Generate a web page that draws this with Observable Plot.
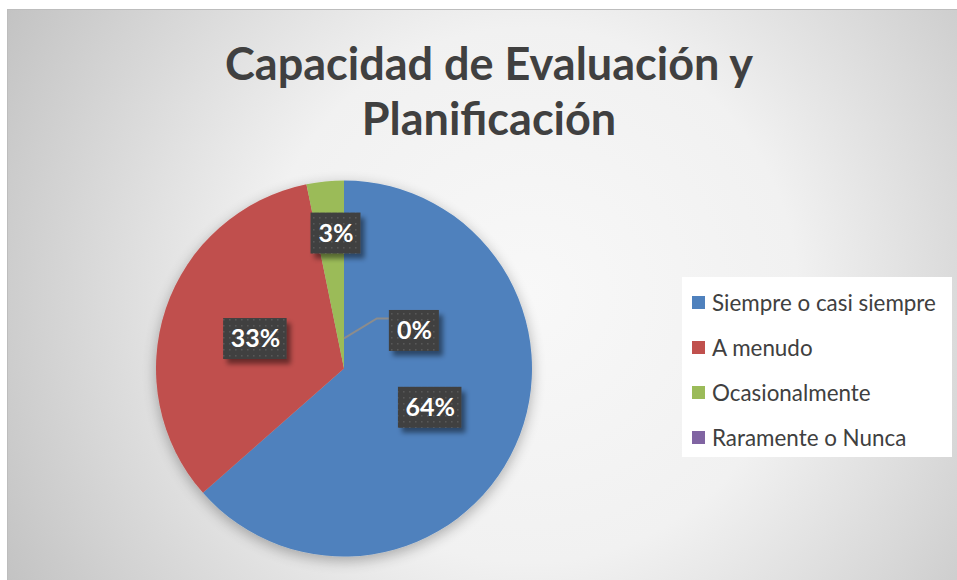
<!DOCTYPE html>
<html>
<head>
<meta charset="utf-8">
<script src="https://cdn.jsdelivr.net/npm/d3@7"></script>
<script src="https://cdn.jsdelivr.net/npm/@observablehq/plot@0.6"></script>
<style>
  html, body { margin: 0; padding: 0; background: #ffffff; }
  #wrap { position: relative; width: 957px; height: 580px; overflow: hidden; font-family: Lato, "Open Sans", sans-serif; }
  #bg { position: absolute; left: 7px; top: 9px; width: 950px; height: 571px; box-sizing: border-box;
        border-top: 1px solid #bdbdbd; border-left: 1px solid #bdbdbd;
        background: radial-gradient(circle farthest-corner at 55% 50%, #f8f8f8 0%, #f1f1f1 45%, #c3c3c3 100%); }
  #title { position: absolute; left: 0; top: 36px; width: 978px; text-align: center; font-weight: 700;
           font-size: 45px; line-height: 55px; color: #404040; }
  #chart { position: absolute; left: 0; top: 0; }
  #legend { position: absolute; left: 682px; top: 277px; width: 270px; height: 180px; background: #ffffff; }
  .row { position: absolute; left: 10px; height: 30px; display: flex; align-items: center; font-size: 22.4px; color: #404040; white-space: nowrap; }
  .sw { width: 13px; height: 13px; margin-right: 7px; flex: none; }
</style>
</head>
<body>
<div id="wrap">
  <div id="bg"></div>
  <div id="title">Capacidad de Evaluación y<br>Planificación</div>
  <div id="chart"></div>
  <div id="legend"></div>
</div>
<script>
// ---- data ----
const categories = ["Siempre o casi siempre", "A menudo", "Ocasionalmente", "Raramente o Nunca"];
const shares = [0.635, 0.333, 0.032, 0];
const labels = ["64%", "33%", "3%", "0%"];
const colors = ["#4F81BD", "#C0504D", "#9BBB59", "#8064A2"];

// ---- layout (label placement relative to the pie, in radius units) ----
const labelPlacement = [
  { r: 0.5 },
  { r: 0.5 },
  { r: 0.72, angleDeg: 356.4 },
  { r: 0.423, angleDeg: 61.5, leader: true }
];

// build slices from the shares
let acc = 0;
const slices = categories.map((key, i) => {
  const start = acc * 2 * Math.PI;
  acc += shares[i];
  const end = acc * 2 * Math.PI;
  return { key, share: shares[i], label: labels[i], start, end, mid: (start + end) / 2 };
});

const labelData = slices.map((s, i) => {
  const p = labelPlacement[i];
  const a = p.angleDeg != null ? p.angleDeg * Math.PI / 180 : s.mid;
  return { key: s.key, text: s.label, x: p.r * Math.sin(a), y: p.r * Math.cos(a), leader: !!p.leader, sliceAngle: s.start };
});

const pieMark = Plot.dot(slices, {
  x: () => 0, y: () => 0, fill: "key",
  render(index, scales, values) {
    const cx = scales.x(0), cy = scales.y(0);
    const r = Math.abs(scales.x(1) - scales.x(0));
    const arc = d3.arc().innerRadius(0).outerRadius(r);
    const g = d3.create("svg:g").attr("transform", `translate(${cx},${cy})`).attr("filter", "url(#pieShadow)");
    for (const i of index) {
      const s = slices[i];
      if (s.end - s.start <= 0) continue;
      g.append("path").attr("d", arc({ startAngle: s.start, endAngle: s.end })).attr("fill", values.fill[i]);
    }
    return g.node();
  }
});

const labelMark = Plot.text(labelData, {
  x: "x", y: "y", text: "text", fill: "white", fontSize: 25, fontWeight: "bold",
  fontFamily: "Lato, 'Open Sans', sans-serif",
  render(index, scales, values, dims, ctx, next) {
    const cx = scales.x(0), cy = scales.y(0);
    const r = Math.abs(scales.x(1) - scales.x(0));
    const g = d3.create("svg:g");
    for (const i of index) {
      const d = labelData[i];
      const x = values.x[i], y = values.y[i];
      const w = 13.5 * d.text.length + 23, h = 41;
      if (d.leader) {
        const sx = cx + 0.16 * r * Math.sin(d.sliceAngle), sy = cy - 0.16 * r * Math.cos(d.sliceAngle);
        g.append("path")
          .attr("d", `M${sx},${sy}L${x - w / 2 - 12},${y - 12}L${x - w / 2},${y - 12}`)
          .attr("fill", "none").attr("stroke", "#8c8c8c").attr("stroke-width", 2);
      }
      g.append("rect").attr("x", x - w / 2).attr("y", y - h / 2).attr("width", w).attr("height", h)
        .attr("fill", "url(#dots)").attr("filter", "url(#boxShadow)");
    }
    g.node().appendChild(next(index, scales, values, dims, ctx));
    return g.node();
  }
});

const plot = Plot.plot({
  width: 957, height: 580,
  marginLeft: 156, marginRight: 425, marginTop: 180, marginBottom: 23,
  x: { domain: [-1, 1], axis: null },
  y: { domain: [-1, 1], axis: null },
  color: { domain: categories, range: colors },
  style: { background: "transparent", overflow: "visible" },
  marks: [pieMark, labelMark]
});

const defs = d3.select(plot).insert("defs", ":first-child");
defs.html(`
  <filter id="pieShadow" x="-20%" y="-20%" width="140%" height="140%">
    <feGaussianBlur in="SourceAlpha" stdDeviation="7"/>
    <feOffset dx="0" dy="4" result="b"/>
    <feComponentTransfer><feFuncA type="linear" slope="0.3"/></feComponentTransfer>
    <feMerge><feMergeNode/><feMergeNode in="SourceGraphic"/></feMerge>
  </filter>
  <filter id="boxShadow" x="-30%" y="-30%" width="170%" height="170%">
    <feDropShadow dx="4" dy="5" stdDeviation="2.5" flood-color="#000" flood-opacity="0.45"/>
  </filter>
  <pattern id="dots" width="6" height="6" patternUnits="userSpaceOnUse">
    <rect width="6" height="6" fill="#404040"/>
    <rect x="1" y="1" width="1.5" height="1.5" fill="#595959"/>
  </pattern>
`);

document.getElementById("chart").appendChild(plot);

// legend from the plot's color scale
const colorScale = plot.scale("color");
const legend = document.getElementById("legend");
colorScale.domain.forEach((name, i) => {
  const row = document.createElement("div");
  row.className = "row";
  row.style.top = (25 + 45 * i - 15) + "px";
  const sw = document.createElement("div");
  sw.className = "sw";
  sw.style.background = colorScale.range[i];
  const t = document.createElement("span");
  t.textContent = name;
  row.appendChild(sw);
  row.appendChild(t);
  legend.appendChild(row);
});
</script>
</body>
</html>
